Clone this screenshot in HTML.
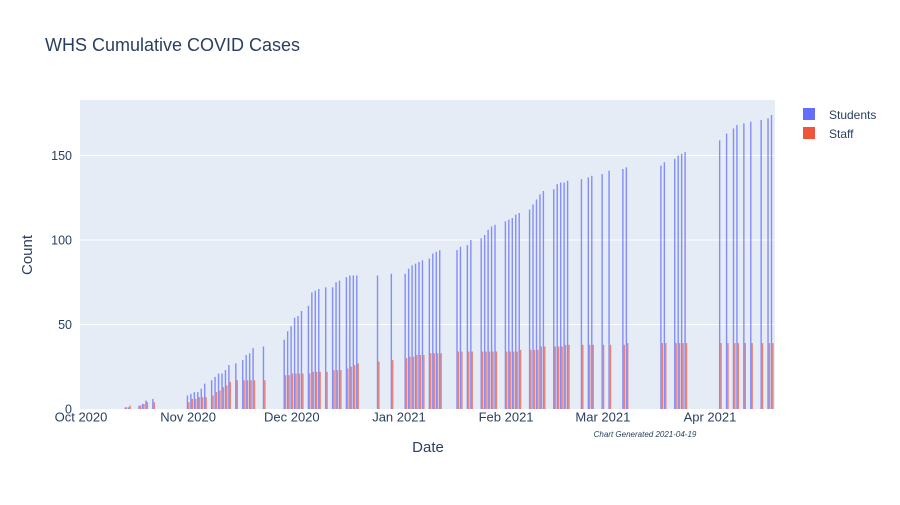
<!DOCTYPE html>
<html><head><meta charset="utf-8"><style>
body{margin:0;background:#fff}
svg{font-family:"Liberation Sans",Arial,sans-serif}
</style></head><body>
<svg id="chart" width="900" height="500" xmlns="http://www.w3.org/2000/svg">
<rect x="0" y="0" width="900" height="500" fill="#fff"/>
<rect x="80" y="100" width="695" height="309" fill="#e5ecf6"/>
<g id="grid"></g>
<g id="bars"></g>
<g id="xticks"></g>
<g id="yticks"></g>
<text x="45" y="51" font-size="18" fill="#2a3f5f">WHS Cumulative COVID Cases</text>
<text x="428" y="452" font-size="15" fill="#2a3f5f" text-anchor="middle">Date</text>
<text x="32" y="255" font-size="15" fill="#2a3f5f" text-anchor="middle" transform="rotate(-90 32 255)">Count</text>
<text x="645" y="437" font-size="8" font-style="italic" fill="#2a3f5f" text-anchor="middle">Chart Generated 2021-04-19</text>
<g>
<g>
<rect x="803" y="108" width="12" height="12" fill="#636efa"/>
<text x="829" y="119" font-size="12" fill="#2a3f5f">Students</text></g>
<g>
<rect x="803" y="127" width="12" height="12" fill="#ef553b"/>
<text x="829" y="138" font-size="12" fill="#2a3f5f">Staff</text></g>
</g>
</svg>
<script>
// days since 2020-10-01
const days = [13,14,17,18,19,21,31,32,33,34,35,36,38,39,40,41,42,43,45,47,48,49,50,53,59,60,61,62,63,64,66,67,68,69,71,73,74,75,77,78,79,80,86,90,94,95,96,97,98,99,101,102,103,104,109,110,112,113,116,117,118,119,120,123,124,125,126,127,130,131,132,133,134,137,138,139,140,141,145,147,148,151,153,157,158,168,169,172,173,174,175,185,187,189,190,192,194,197,199,200];
const students = [1,1,2,3,5,6,8,9,10,10,12,15,17,19,21,21,23,26,27,29,32,33,36,37,41,46,49,54,55,58,61,69,70,71,72,72,75,76,78,79,79,79,79,80,80,83,85,86,87,88,89,92,93,94,94,96,97,100,101,103,106,108,109,111,112,113,115,116,118,121,124,127,129,130,133,134,134,135,136,137,138,139,141,142,143,144,146,148,150,151,152,159,163,166,168,169,170,171,172,174];
const staff = [1,2,2,3,4,4,4,6,6,7,7,7,8,10,11,13,14,16,17,17,17,17,17,17,20,20,21,21,21,21,21,22,22,22,22,23,23,23,24,25,26,27,28,29,30,31,31,32,32,32,33,33,33,33,34,34,34,34,34,34,34,34,34,34,34,34,34,35,35,35,35,37,37,37,37,37,38,38,38,38,38,38,38,38,39,39,39,39,39,39,39,39,39,39,39,39,39,39,39,39];
const xTickLabels = ["Oct 2020","Nov 2020","Dec 2020","Jan 2021","Feb 2021","Mar 2021","Apr 2021"];
const xTickDays = [0,31,61,92,123,151,182];
const yTicks = [0,50,100,150];

const NS="http://www.w3.org/2000/svg";
const X0=81, PXD=3.456, Y0=409, PXV=1.69, L=80, R=775;
const x = d => X0 + PXD*d;
const y = v => Y0 - PXV*v;
function mk(tag, attrs, parent){const e=document.createElementNS(NS,tag);for(const k in attrs)e.setAttribute(k,attrs[k]);parent.appendChild(e);return e;}
const grid=document.getElementById('grid'), bars=document.getElementById('bars');
const xt=document.getElementById('xticks'), yt=document.getElementById('yticks');
yTicks.forEach(v=>{
  if(v>0){const g=mk('line',{x1:L,x2:R,y1:y(v),y2:y(v),stroke:'#fff','stroke-width':1},grid);
  
  }
  const t=mk('text',{x:72,y:y(v)+4.5,'font-size':12.5,fill:'#2a3f5f','text-anchor':'end'},yt);
  t.textContent=v;
  
  
});
xTickLabels.forEach((s,i)=>{
  const t=mk('text',{x:x(xTickDays[i]),y:421.5,'font-size':13,fill:'#2a3f5f','text-anchor':'middle'},xt);
  t.textContent=s;
  
  
});
const BW=1.4;
days.forEach((d,i)=>{
  const cx=x(d);
  const a=mk('rect',{x:cx-BW,y:y(students[i]),width:BW,height:PXV*students[i],fill:'#636efa','fill-opacity':0.75},bars);
  
  
  const b=mk('rect',{x:cx,y:y(staff[i]),width:BW,height:PXV*staff[i],fill:'#ef553b','fill-opacity':0.7},bars);
  
  
});
</script>
</body></html>
